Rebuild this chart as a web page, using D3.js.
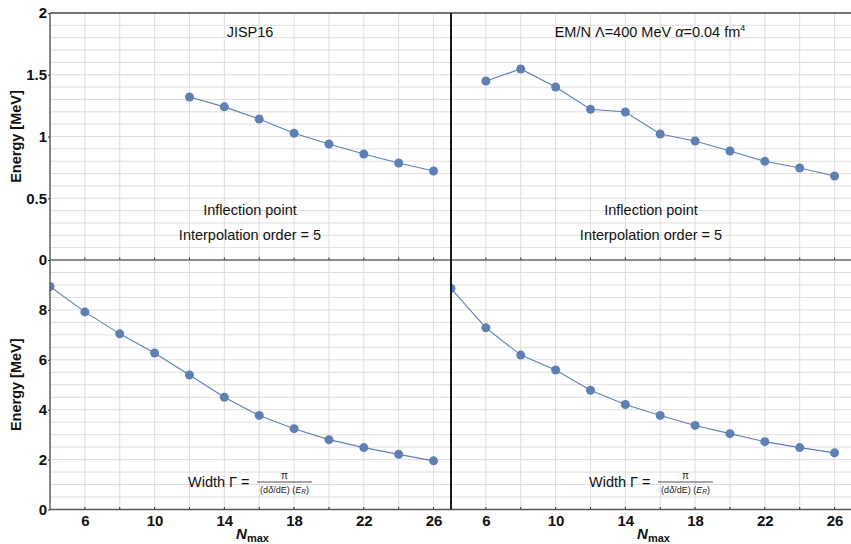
<!DOCTYPE html>
<html>
<head>
<meta charset="utf-8">
<script src="https://cdn.jsdelivr.net/npm/d3@7"></script>
<style>
  html, body { margin: 0; padding: 0; background: #fff; }
  svg { display: block; font-family: "Liberation Sans", Arial, Helvetica, sans-serif; }
</style>
</head>
<body>
<svg id="chart" width="851" height="544"></svg>
<script>
// ---------- data ----------
const nmaxJISPInfl = [12, 14, 16, 18, 20, 22, 24, 26];
const jispInflection = [1.32, 1.24, 1.142, 1.026, 0.939, 0.858, 0.785, 0.721];

const nmaxEMNInfl = [6, 8, 10, 12, 14, 16, 18, 20, 22, 24, 26];
const emnInflection = [1.449, 1.547, 1.401, 1.220, 1.198, 1.020, 0.964, 0.883, 0.799, 0.745, 0.680];

const nmaxWidth = [4, 6, 8, 10, 12, 14, 16, 18, 20, 22, 24, 26];
const jispWidth = [8.94, 7.92, 7.04, 6.27, 5.39, 4.50, 3.77, 3.24, 2.80, 2.48, 2.21, 1.95];
const emnWidth = [8.86, 7.28, 6.19, 5.59, 4.78, 4.21, 3.77, 3.37, 3.04, 2.72, 2.48, 2.27];

const xDomain = [4, 27];
const xTickLabels = [6, 10, 14, 18, 22, 26];
const xMinorTicks = d3.range(4, 27, 2);
const topYTicks = [0, 0.5, 1, 1.5, 2];
const bottomYTicks = [0, 2, 4, 6, 8];

const panelTitles = ["JISP16", null]; // right title built with tspans
// ---------- layout ----------
const svg = d3.select("#chart");
const colX = [[50, 451], [451, 852]];
const rowY = [[13, 260], [260, 509.5]];
const pointColor = "rgb(94,129,181)";
const gridColor = "#dedede";

const yTop = d3.scaleLinear().domain([0, 2]).range([rowY[0][1], rowY[0][0]]);
const yBot = d3.scaleLinear().domain([0, 10]).range([rowY[1][1], rowY[1][0]]);
const xScales = colX.map(r => d3.scaleLinear().domain(xDomain).range(r));

const defs = svg.append("defs");

const panels = [
  { c: 0, r: 0, y: yTop, xs: nmaxJISPInfl, ys: jispInflection, gridStep: 0.1 },
  { c: 1, r: 0, y: yTop, xs: nmaxEMNInfl, ys: emnInflection, gridStep: 0.1 },
  { c: 0, r: 1, y: yBot, xs: nmaxWidth, ys: jispWidth, gridStep: 0.5 },
  { c: 1, r: 1, y: yBot, xs: nmaxWidth, ys: emnWidth, gridStep: 0.5 }
];

// grids
panels.forEach((p, i) => {
  const x = xScales[p.c];
  const y = p.y;
  const g = svg.append("g");
  const [d0, d1] = y.domain();
  const hv = d3.range(d0 + p.gridStep, d1 - 1e-9, p.gridStep);
  g.selectAll("line.h").data(hv).enter().append("line")
    .attr("x1", x.range()[0]).attr("x2", x.range()[1])
    .attr("y1", d => y(d)).attr("y2", d => y(d))
    .attr("stroke", gridColor).attr("stroke-width", 1);
  const vv = d3.range(6, 27, 2);
  g.selectAll("line.v").data(vv).enter().append("line")
    .attr("x1", d => x(d)).attr("x2", d => x(d))
    .attr("y1", y.range()[0]).attr("y2", y.range()[1])
    .attr("stroke", gridColor).attr("stroke-width", 1);
});

// data marks (clipped to panel)
panels.forEach((p, i) => {
  const x = xScales[p.c];
  const y = p.y;
  defs.append("clipPath").attr("id", "clip" + i).append("rect")
    .attr("x", x.range()[0]).attr("y", y.range()[1])
    .attr("width", x.range()[1] - x.range()[0])
    .attr("height", y.range()[0] - y.range()[1]);
  const g = svg.append("g").attr("clip-path", `url(#clip${i})`);
  const pts = p.xs.map((v, k) => [v, p.ys[k]]);
  g.append("path").datum(pts)
    .attr("d", d3.line().x(d => x(d[0])).y(d => y(d[1])))
    .attr("fill", "none").attr("stroke", pointColor).attr("stroke-width", 1.1);
  g.selectAll("circle").data(pts).enter().append("circle")
    .attr("cx", d => x(d[0])).attr("cy", d => y(d[1]))
    .attr("r", 4.5).attr("fill", pointColor);
});

// axes
const xAxisTop = svg.append("g").attr("transform", `translate(0,${rowY[0][1]})`);
const xAxisBot = svg.append("g").attr("transform", `translate(0,${rowY[1][1]})`);
[0, 1].forEach(c => {
  const x = xScales[c];
  xAxisTop.selectAll(null).data(xMinorTicks.slice(1)).enter().append("line")
    .attr("x1", d => x(d)).attr("x2", d => x(d)).attr("y1", 0).attr("y2", -2.5)
    .attr("stroke", "#222").attr("stroke-width", 1);
  xAxisBot.selectAll(null).data(xMinorTicks.slice(1)).enter().append("line")
    .attr("x1", d => x(d)).attr("x2", d => x(d)).attr("y1", 0).attr("y2", -2.5)
    .attr("stroke", "#222").attr("stroke-width", 1);
  const ax = d3.axisBottom(x).tickValues(xTickLabels).tickSize(0).tickPadding(6).tickFormat(d3.format("d"));
  xAxisBot.append("g").call(ax).call(g => {
    g.select(".domain").remove();
    g.selectAll("text").attr("font-size", 15).attr("font-weight", "bold")
      .attr("fill", "#111").attr("font-family", "Liberation Sans, Arial, sans-serif");
  });
});

// y axes on left
const yAxTop = d3.axisLeft(yTop).tickValues(topYTicks).tickSize(2).tickPadding(1).tickFormat(d => String(d));
const yAxBot = d3.axisLeft(yBot).tickValues(bottomYTicks).tickSize(2).tickPadding(1).tickFormat(d3.format("d"));
[yAxTop, yAxBot].forEach(ax => {
  svg.append("g").attr("transform", `translate(${colX[0][0]},0)`).call(ax).call(g => {
    g.select(".domain").remove();
    g.selectAll("line").attr("stroke", "#222");
    g.selectAll("text").attr("font-size", 15).attr("font-weight", "bold").attr("fill", "#111")
      .attr("font-family", "Liberation Sans, Arial, sans-serif");
  });
});

// frame lines
const frame = svg.append("g");
frame.append("line").attr("x1", colX[0][0]).attr("x2", 851).attr("y1", rowY[0][0]).attr("y2", rowY[0][0])
  .attr("stroke", "#444").attr("stroke-width", 1.3);
frame.append("line").attr("x1", colX[0][0]).attr("x2", 851).attr("y1", rowY[0][1]).attr("y2", rowY[0][1])
  .attr("stroke", "#666").attr("stroke-width", 1.5);
frame.append("line").attr("x1", colX[0][0]).attr("x2", 851).attr("y1", rowY[1][1]).attr("y2", rowY[1][1])
  .attr("stroke", "#555").attr("stroke-width", 1.4);
frame.append("line").attr("x1", colX[0][0]).attr("x2", colX[0][0]).attr("y1", rowY[0][0]).attr("y2", rowY[1][1])
  .attr("stroke", "#555").attr("stroke-width", 1.4);
frame.append("line").attr("x1", colX[1][0]).attr("x2", colX[1][0]).attr("y1", rowY[0][0]).attr("y2", rowY[1][1])
  .attr("stroke", "#1a1a1a").attr("stroke-width", 2);

// axis titles
const labelFont = "Liberation Sans, Arial, sans-serif";
[(rowY[0][0] + rowY[0][1]) / 2, (rowY[1][0] + rowY[1][1]) / 2].forEach(cy => {
  svg.append("text").attr("transform", `translate(21,${cy}) rotate(-90)`)
    .attr("text-anchor", "middle").attr("font-size", 14.5).attr("font-weight", "bold")
    .attr("fill", "#111").attr("font-family", labelFont).text("Energy [MeV]");
});
[0, 1].forEach(c => {
  const cx = (colX[c][0] + colX[c][1]) / 2 + 2;
  const t = svg.append("text").attr("x", cx).attr("y", 539).attr("text-anchor", "middle")
    .attr("font-family", labelFont).attr("font-weight", "bold").attr("fill", "#111");
  t.append("tspan").attr("font-size", 15).attr("font-style", "italic").text("N");
  t.append("tspan").attr("font-size", 11).attr("dy", 3).text("max");
});

// panel annotations
const annFont = { "font-family": labelFont, "font-size": 14.5, "fill": "#111" };
function ann(x, y, txt) {
  const t = svg.append("text").attr("x", x).attr("y", y).attr("text-anchor", "middle");
  Object.entries(annFont).forEach(([k, v]) => t.attr(k, v));
  return t.text(txt);
}
ann(250, 37, panelTitles[0]);
const rt = svg.append("text").attr("x", 650).attr("y", 37).attr("text-anchor", "middle");
Object.entries(annFont).forEach(([k, v]) => rt.attr(k, v));
rt.append("tspan").text("EM/N Λ=400 MeV ");
rt.append("tspan").attr("font-style", "italic").text("α");
rt.append("tspan").text("=0.04 fm");
rt.append("tspan").attr("font-size", 9).attr("dy", -6).text("4");

[250, 651].forEach(cx => {
  ann(cx, 215, "Inflection point");
  ann(cx, 240, "Interpolation order = 5");
});

// width formula
[188, 589].forEach(x0 => {
  const t = svg.append("text").attr("x", x0).attr("y", 486.5);
  Object.entries(annFont).forEach(([k, v]) => t.attr(k, v));
  t.text("Width Γ =");
  const fx0 = x0 + 69, fx1 = x0 + 124;
  svg.append("line").attr("x1", fx0).attr("x2", fx1).attr("y1", 482).attr("y2", 482)
    .attr("stroke", "#222").attr("stroke-width", 0.8);
  svg.append("text").attr("x", (fx0 + fx1) / 2).attr("y", 479).attr("text-anchor", "middle")
    .attr("font-family", labelFont).attr("font-size", 10).attr("fill", "#222").text("π");
  const d = svg.append("text").attr("x", (fx0 + fx1) / 2).attr("y", 492.5).attr("text-anchor", "middle")
    .attr("font-family", labelFont).attr("font-size", 9).attr("fill", "#222");
  d.append("tspan").text("(d");
  d.append("tspan").attr("font-style", "italic").text("δ");
  d.append("tspan").text("/dE) (");
  d.append("tspan").attr("font-style", "italic").text("E");
  d.append("tspan").attr("font-style", "italic").attr("font-size", 6.5).attr("dy", 1.5).text("R");
  d.append("tspan").attr("dy", -1.5).text(")");
});
</script>
</body>
</html>
